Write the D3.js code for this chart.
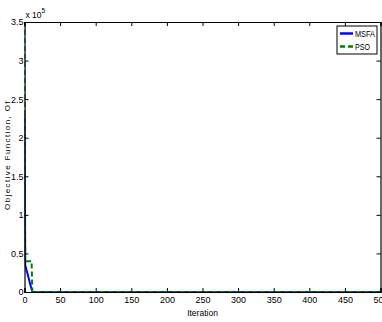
<!DOCTYPE html>
<html>
<head>
<meta charset="utf-8">
<script src="https://cdn.jsdelivr.net/npm/d3@7"></script>
<style>
  body { margin: 0; background: #fff; }
  text { font-family: "Liberation Sans", Arial, sans-serif; }
</style>
</head>
<body>
<div id="canvas"></div>
<script>
// iterations shown explicitly, the rest stays flat to the end
const iterations = [0, 1, 2, 3, 4, 5, 6, 7, 8, 9, 10, 11, 500];
const msfa = [230000, 35000, 31500, 28000, 24500, 21000, 17500, 14000, 10500, 7000, 3500, 0, 0];
const pso = [350000, 40000, 40000, 40000, 40000, 40000, 40000, 40000, 40000, 40000, 40000, 0, 0];
const xTicks = [0, 50, 100, 150, 200, 250, 300, 350, 400, 450, 500];
const yTicks = [0, 50000, 100000, 150000, 200000, 250000, 300000, 350000];
const seriesNames = ["MSFA", "PSO"];

const width = 382;
const height = 322;
const margin = { top: 22, left: 24.5, bottom: 30, right: 1.5 };
const iwidth = width - margin.left - margin.right;
const iheight = height - margin.top - margin.bottom;

const svg = d3.select("#canvas").append("svg")
  .attr("width", width)
  .attr("height", height);

const g = svg.append("g")
  .attr("transform", `translate(${margin.left}, ${margin.top})`);

const x = d3.scaleLinear().domain([0, 500]).range([0, iwidth]);
const y = d3.scaleLinear().domain([0, 350000]).range([iheight, 0]);

g.append("clipPath").attr("id", "clip")
  .append("rect").attr("width", iwidth).attr("height", iheight);

const line = d3.line()
  .x((d, i) => x(iterations[i]))
  .y((d) => y(d));

const plot = g.append("g").attr("clip-path", "url(#clip)");

plot.append("path")
  .datum(msfa)
  .attr("fill", "none")
  .attr("stroke", "#0000ff")
  .attr("stroke-width", 2)
  .attr("d", line);

plot.append("path")
  .datum(pso)
  .attr("fill", "none")
  .attr("stroke", "#008000")
  .attr("stroke-width", 2)
  .attr("stroke-dasharray", "5,3")
  .attr("d", line);

// axes, ticks pointing inward like matlab
const fmt = (d) => d3.format("~g")(d / 1e5);

const xb = g.append("g")
  .attr("transform", `translate(0, ${iheight})`)
  .call(d3.axisBottom(x).tickValues(xTicks).tickSize(-4).tickPadding(5));
const xt = g.append("g")
  .call(d3.axisTop(x).tickValues(xTicks).tickSize(-4).tickFormat(""));
const yl = g.append("g")
  .call(d3.axisLeft(y).tickValues(yTicks).tickSize(-4).tickPadding(1).tickFormat(fmt));
const yr = g.append("g")
  .attr("transform", `translate(${iwidth}, 0)`)
  .call(d3.axisRight(y).tickValues(yTicks).tickSize(-4).tickFormat(""));

[xb, xt, yl, yr].forEach((a) => {
  a.select(".domain").attr("stroke", "#000").attr("stroke-width", 1.2);
  a.selectAll(".tick line").attr("stroke", "#000");
  a.selectAll("text").attr("font-size", 9).attr("fill", "#000")
    .style("font-family", '"Liberation Sans", Arial, sans-serif');
});

// exponent label
const ex = svg.append("text")
  .attr("x", margin.left + 1)
  .attr("y", 18)
  .attr("font-size", 8.5)
  .text("x 10");
ex.append("tspan").attr("dy", -5).attr("font-size", 6.5).text("5");

// axis titles
svg.append("text")
  .attr("x", margin.left + iwidth / 2)
  .attr("y", 316)
  .attr("text-anchor", "middle")
  .attr("font-size", 8.5)
  .text("Iteration");

svg.append("text")
  .attr("transform", `translate(10, ${margin.top + iheight / 2 - 2}) rotate(-90)`)
  .attr("text-anchor", "middle")
  .attr("font-size", 8)
  .attr("letter-spacing", 1.4)
  .text("Objective Function, Of");

// legend
const lg = svg.append("g").attr("transform", "translate(337, 26)");
lg.append("rect")
  .attr("width", 40).attr("height", 28)
  .attr("fill", "#fff").attr("stroke", "#000").attr("stroke-width", 1);
const styles = [{ c: "#0000ff", dash: null, w: 20 }, { c: "#008000", dash: "5,3", w: 15 }];
seriesNames.forEach((n, i) => {
  const yy = 7.5 + i * 13;
  lg.append("line")
    .attr("x1", 3).attr("x2", 16).attr("y1", yy).attr("y2", yy)
    .attr("stroke", styles[i].c).attr("stroke-width", 2.5)
    .attr("stroke-dasharray", styles[i].dash);
  lg.append("text")
    .attr("x", 18).attr("y", yy + 3.5)
    .attr("font-size", 9.5)
    .attr("textLength", styles[i].w)
    .attr("lengthAdjust", "spacingAndGlyphs")
    .text(n);
});
</script>
</body>
</html>
